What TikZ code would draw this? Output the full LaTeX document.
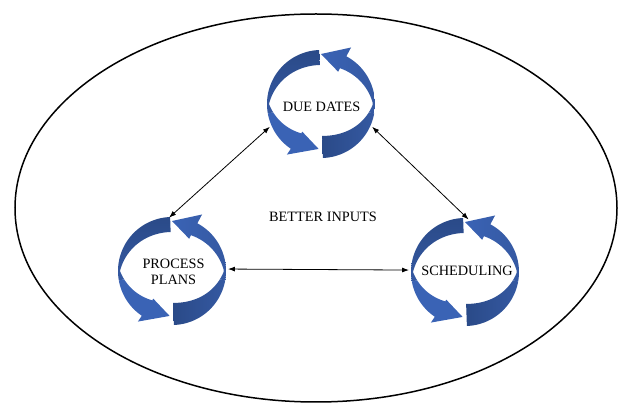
\documentclass[tikz,border=0pt]{standalone}
\usepackage{fontspec}
\setmainfont{Liberation Serif}
\usetikzlibrary{arrows.meta}

\definecolor{ribdark}{HTML}{2A4A88}
\definecolor{ribmid}{HTML}{3559A2}
\definecolor{riblight}{HTML}{3A63B5}

\tikzset{
  % invisible round node that marks one cycle of ribbons
  ring/.style={circle, minimum size=112pt, inner sep=0pt, outer sep=0pt},
  label/.style={font=\fontsize{14.3}{16.7}\selectfont, inner sep=0pt, align=center, anchor=base},
  link/.style={line width=0.8pt, {Latex[length=7pt,width=5pt]}-{Latex[length=7pt,width=5pt]}},
  % two curved ribbon arrows running counter-clockwise round a centre
  cyc/.pic={
    % upper-left ribbon: flat end at the top, thinning to the left
    \shade[top color=ribdark, bottom color=ribmid]
      plot[domain=92:190, samples=40] ({54*cos(\x)}, {-54*sin(\x)})
      -- plot[domain=190:92, samples=40] ({rin(\x)*cos(\x)}, {-rin(\x)*sin(\x)}) -- cycle;
    % lower-left arrow, head pointing right at the bottom
    \fill[riblight]
      plot[domain=190:236, samples=30] ({54*cos(\x)}, {-54*sin(\x)})
      -- ({61*cos(236)}, {-61*sin(236)})
      -- ({45*cos(267)}, {-45*sin(267)})
      -- ({(rin(236)-2)*cos(236)}, {-(rin(236)-2)*sin(236)})
      -- plot[domain=236:190, samples=30] ({rin(\x)*cos(\x)}, {-rin(\x)*sin(\x)}) -- cycle;
    % upper-right arrow, head pointing left at the top
    \shade[left color=riblight, right color=ribmid]
      plot[domain=-10:62, samples=40] ({54*cos(\x)}, {-54*sin(\x)})
      -- ({64*cos(62)}, {-64*sin(62)})
      -- ({50*cos(90)}, {-50*sin(90)})
      -- ({(rin(62)-4)*cos(62)}, {-(rin(62)-4)*sin(62)})
      -- plot[domain=62:-10, samples=40] ({rin(\x)*cos(\x)}, {-rin(\x)*sin(\x)}) -- cycle;
    % lower-right ribbon: flat end at the bottom, thinning to the right
    \shade[left color=ribdark, right color=ribmid]
      plot[domain=272:350, samples=40] ({54*cos(\x)}, {-54*sin(\x)})
      -- plot[domain=350:272, samples=40] ({rin(\x)*cos(\x)}, {-rin(\x)*sin(\x)}) -- cycle;
  }
}

\begin{document}
\begin{tikzpicture}[x=1pt, y=-1pt,
  declare function={rin(\t)=52-16.5*abs(sin(\t))+3.5*sin(\t);}]
  \useasboundingbox (0,0) rectangle (619,403);

  % outer frame
  \draw[line width=1.5pt] (316,208) ellipse [x radius=301, y radius=194];

  % the three cycles
  \node[ring] (dd) at (321,104) {};
  \node[ring] (pp) at (172,271) {};
  \node[ring] (sc) at (465,272) {};
  \path (dd.center) pic {cyc};
  \path (pp.center) pic {cyc};
  \path (sc.center) pic {cyc};

  % texts
  \node[label] (ddtext) at (321.5,112) {DUE DATES};
  \node[label] (pptext) at (173.5,285) {PROCESS\\PLANS};
  \node[label] (sctext) at (467,276) {SCHEDULING};
  \node[label] (bi) at (323,222) {BETTER INPUTS};

  % links between the cycles
  \draw[link, shorten >=-4pt] (dd.204) -- (pp.90);
  \draw[link, shorten >=-5pt] (dd.336) -- (sc.90);
  \draw[link] (pp.2) -- (sc.178);
\end{tikzpicture}
\end{document}
